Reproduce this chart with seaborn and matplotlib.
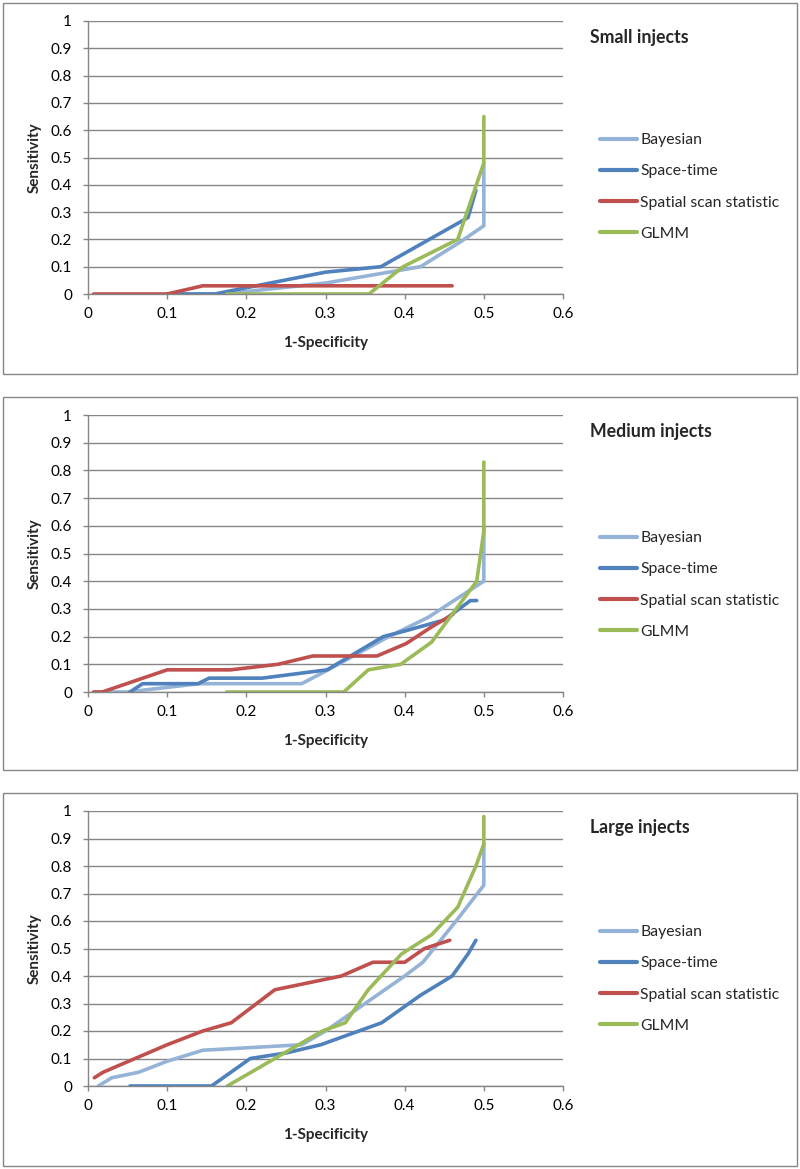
import pandas as pd
import seaborn as sns
import matplotlib.pyplot as plt
from matplotlib.patches import Rectangle
from matplotlib.ticker import FormatStrFormatter

methods = ["Bayesian", "Space-time", "Spatial scan statistic", "GLMM"]
colors = ["#95B3D7", "#4F81BD", "#C0504D", "#9BBB59"]
titles = ["Small injects", "Medium injects", "Large injects"]

# ---- Small injects ----
small_bayes_x = [0.10, 0.17, 0.30, 0.37, 0.42, 0.47, 0.50, 0.50]
small_bayes_y = [0.00, 0.00, 0.04, 0.075, 0.10, 0.19, 0.25, 0.48]
small_st_x = [0.10, 0.16, 0.20, 0.30, 0.37, 0.48, 0.49]
small_st_y = [0.00, 0.00, 0.023, 0.08, 0.10, 0.28, 0.38]
small_scan_x = [0.007, 0.10, 0.145, 0.46]
small_scan_y = [0.00, 0.00, 0.03, 0.03]
small_glmm_x = [0.175, 0.355, 0.398, 0.467, 0.50, 0.50]
small_glmm_y = [0.00, 0.00, 0.10, 0.20, 0.48, 0.65]

# ---- Medium injects ----
med_bayes_x = [0.01, 0.05, 0.14, 0.27, 0.30, 0.38, 0.43, 0.50, 0.50]
med_bayes_y = [0.00, 0.00, 0.03, 0.03, 0.075, 0.20, 0.27, 0.40, 0.60]
med_st_x = [0.053, 0.069, 0.139, 0.153, 0.22, 0.302, 0.373, 0.40, 0.45, 0.483, 0.491]
med_st_y = [0.00, 0.03, 0.03, 0.05, 0.05, 0.08, 0.20, 0.22, 0.26, 0.33, 0.33]
med_scan_x = [0.007, 0.018, 0.10, 0.18, 0.24, 0.284, 0.365, 0.402, 0.434, 0.461]
med_scan_y = [0.00, 0.00, 0.08, 0.08, 0.10, 0.13, 0.13, 0.175, 0.235, 0.28]
med_glmm_x = [0.175, 0.323, 0.354, 0.395, 0.434, 0.491, 0.50, 0.50]
med_glmm_y = [0.00, 0.00, 0.08, 0.10, 0.18, 0.40, 0.58, 0.83]

# ---- Large injects ----
large_bayes_x = [0.013, 0.03, 0.064, 0.10, 0.145, 0.27, 0.30, 0.40, 0.423, 0.465, 0.50, 0.50]
large_bayes_y = [0.00, 0.03, 0.05, 0.09, 0.13, 0.15, 0.20, 0.40, 0.45, 0.60, 0.73, 0.88]
large_st_x = [0.053, 0.156, 0.205, 0.25, 0.294, 0.371, 0.42, 0.46, 0.48, 0.49]
large_st_y = [0.00, 0.00, 0.10, 0.12, 0.15, 0.23, 0.33, 0.40, 0.48, 0.53]
large_scan_x = [0.008, 0.019, 0.10, 0.145, 0.181, 0.236, 0.32, 0.36, 0.40, 0.425, 0.457]
large_scan_y = [0.03, 0.05, 0.15, 0.20, 0.23, 0.35, 0.40, 0.45, 0.45, 0.50, 0.53]
large_glmm_x = [0.176, 0.296, 0.325, 0.354, 0.396, 0.434, 0.467, 0.49, 0.50, 0.50]
large_glmm_y = [0.00, 0.20, 0.23, 0.35, 0.48, 0.55, 0.65, 0.80, 0.88, 0.98]

panels = [
    [(small_bayes_x, small_bayes_y), (small_st_x, small_st_y),
     (small_scan_x, small_scan_y), (small_glmm_x, small_glmm_y)],
    [(med_bayes_x, med_bayes_y), (med_st_x, med_st_y),
     (med_scan_x, med_scan_y), (med_glmm_x, med_glmm_y)],
    [(large_bayes_x, large_bayes_y), (large_st_x, large_st_y),
     (large_scan_x, large_scan_y), (large_glmm_x, large_glmm_y)],
]


def build_frame(series):
    rows = []
    for name, (xs, ys) in zip(methods, series):
        for x, y in zip(xs, ys):
            rows.append({"Method": name, "x": x, "y": y})
    return pd.DataFrame(rows)


sns.set_theme(style="white")
plt.rcParams["font.family"] = ["Lato", "DejaVu Sans"]

W, H = 800, 1169
fig = plt.figure(figsize=(W / 100, H / 100), dpi=100)

grey = "#868686"
# pixel rows of y=1 and y=0 for each panel, and the panel frames
axes_px = [(21, 294), (415, 692), (811, 1086)]
boxes_px = [(3, 374), (397, 770), (793, 1166)]
ax_left, ax_right = 88, 563

for k in range(3):
    top, bot = axes_px[k]
    h_px = bot - top
    ax = fig.add_axes([ax_left / W, 1 - bot / H, (ax_right - ax_left) / W, h_px / H])
    df = build_frame(panels[k])
    sns.lineplot(data=df, x="x", y="y", hue="Method", hue_order=methods,
                 palette=colors, sort=False, estimator=None, linewidth=2.6,
                 ax=ax, legend=True)
    ax.set_xlim(0, 0.6)
    ax.set_ylim(0, 1)
    ax.set_xticks([i / 10 for i in range(7)])
    ax.set_yticks([i / 10 for i in range(11)])
    ax.xaxis.set_major_formatter(FormatStrFormatter("%g"))
    ax.yaxis.set_major_formatter(FormatStrFormatter("%g"))
    ax.grid(axis="y", color=grey, linewidth=1.0)
    ax.set_axisbelow(True)
    for s in ["top", "right"]:
        ax.spines[s].set_visible(False)
    for s in ["left", "bottom"]:
        ax.spines[s].set_color(grey)
        ax.spines[s].set_linewidth(1.0)
    ax.tick_params(axis="both", which="major", direction="out", length=3.6,
                   width=1.0, color=grey, labelsize=11, labelcolor="black",
                   left=True, bottom=True)
    ax.tick_params(axis="x", pad=6)
    ax.tick_params(axis="y", pad=8)

    ax.set_xlabel("1-Specificity", fontsize=11, fontweight="bold", va="center")
    ax.xaxis.set_label_coords(0.5, -49 / h_px)
    ax.set_ylabel("Sensitivity", fontsize=11, fontweight="bold",
                  va="center", ha="center")
    ax.yaxis.set_label_coords(-53 / (ax_right - ax_left), 0.5)

    # legend block centred ~108 px above the x axis
    leg = ax.legend(loc="center left", bbox_to_anchor=(1.078, 107 / h_px),
                    frameon=False, fontsize=11.3, handlelength=2.36,
                    handletextpad=0.2, labelspacing=1.1, borderpad=0,
                    borderaxespad=0)
    for line in leg.get_lines():
        line.set_linewidth(3)

    fig.text(590 / W, 1 - (top + 16) / H, titles[k], fontsize=12.8,
             fontweight="bold", va="center", ha="left")

    btop, bbot = boxes_px[k]
    fig.add_artist(Rectangle((3 / W, 1 - bbot / H), 794 / W, (bbot - btop) / H,
                             transform=fig.transFigure, fill=False,
                             edgecolor=grey, linewidth=1.0))

fig.savefig("out.png", dpi=100)
